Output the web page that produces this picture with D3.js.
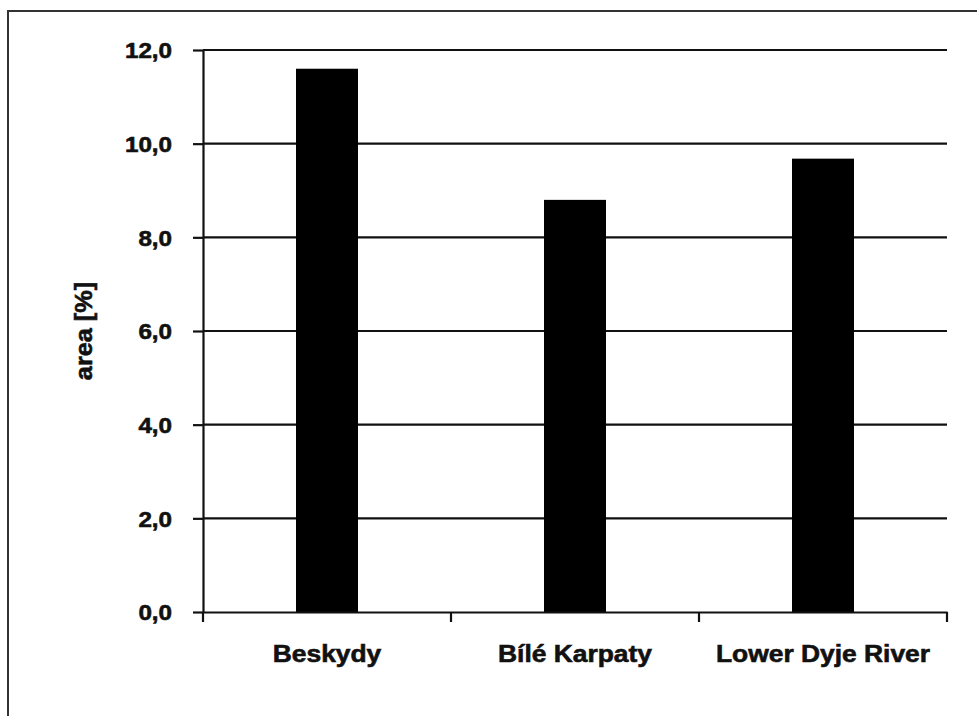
<!DOCTYPE html>
<html>
<head>
<meta charset="utf-8">
<script src="https://cdn.jsdelivr.net/npm/d3@7"></script>
<style>
  body { margin: 0; background: #fff; }
  svg { display: block; font-family: "Liberation Sans", Arial, sans-serif; font-weight: bold; }
  svg text { stroke: #111; stroke-width: 0.6px; }
</style>
</head>
<body>
<div id="chart"></div>
<script>
const regions = ['Beskydy', 'Bílé Karpaty', 'Lower Dyje River'];
const areaPct = [11.6, 8.8, 9.68];
const yTicks = [0, 2, 4, 6, 8, 10, 12];
const yLabel = 'area [%]';

const width = 977, height = 716;
const margin = { top: 50, right: 30, bottom: 104, left: 203 };
const w = width - margin.left - margin.right;
const h = height - margin.top - margin.bottom;
const stretch = 1.1; // the original type is a bit wide

const svg = d3.select('#chart').append('svg').attr('width', width).attr('height', height);

// frame of the original figure (only top and left visible)
svg.append('path')
  .attr('d', `M8,${height} V11 H${width}`)
  .attr('fill', 'none').attr('stroke', '#333').attr('stroke-width', 2);

const g = svg.append('g').attr('transform', `translate(${margin.left},${margin.top})`);

const x = d3.scaleBand().domain(regions).range([0, w]).paddingInner(0.75).paddingOuter(0.375);
const y = d3.scaleLinear().domain([0, 12]).range([h, 0]);

// gridlines
g.append('g').selectAll('line').data(yTicks.filter(d => d > 0)).enter().append('line')
  .attr('x1', 0).attr('x2', w)
  .attr('y1', d => y(d)).attr('y2', d => y(d))
  .attr('stroke', '#111').attr('stroke-width', 2.2);

// bars
g.selectAll('rect.bar').data(regions).enter().append('rect')
  .attr('class', 'bar')
  .attr('x', d => x(d)).attr('width', x.bandwidth())
  .attr('y', (d, i) => y(areaPct[i]))
  .attr('height', (d, i) => h - y(areaPct[i]))
  .attr('fill', '#000');

// y axis
const yAxis = g.append('g')
  .call(d3.axisLeft(y).tickValues(yTicks).tickSize(10).tickSizeOuter(0)
    .tickFormat(d => d.toFixed(1).replace('.', ',')));
yAxis.select('.domain').attr('stroke', '#111').attr('stroke-width', 2.2);
yAxis.selectAll('.tick line').attr('stroke', '#111').attr('stroke-width', 2.2);
yAxis.selectAll('.tick text')
  .attr('x', -31 / stretch).attr('dy', '0.36em')
  .attr('transform', `scale(${stretch},1)`)
  .style('font-size', '22px').style('font-weight', 'bold').attr('fill', '#111');

// x axis: line, boundary ticks, centred labels
const xAxis = g.append('g').attr('transform', `translate(0,${h})`)
  .call(d3.axisBottom(x).tickSize(0).tickSizeOuter(0));
xAxis.select('.domain').attr('stroke', '#111').attr('stroke-width', 2.2);
xAxis.selectAll('.tick text')
  .attr('y', 0).attr('dy', 0)
  .attr('transform', `translate(0,50) scale(${stretch},1)`)
  .style('font-size', '24px').style('font-weight', 'bold').attr('fill', '#111');

const bounds = d3.range(regions.length + 1).map(i => i * x.step());
xAxis.selectAll('line.bound').data(bounds).enter().append('line')
  .attr('class', 'bound')
  .attr('x1', d => Math.min(d, w)).attr('x2', d => Math.min(d, w))
  .attr('y1', 0).attr('y2', 10)
  .attr('stroke', '#111').attr('stroke-width', 2.2);

// y label
svg.append('text')
  .attr('transform', `translate(92,${margin.top + h / 2}) rotate(-90) scale(${stretch},1)`)
  .attr('text-anchor', 'middle')
  .style('font-size', '23px').attr('fill', '#111')
  .text(yLabel);
</script>
</body>
</html>
